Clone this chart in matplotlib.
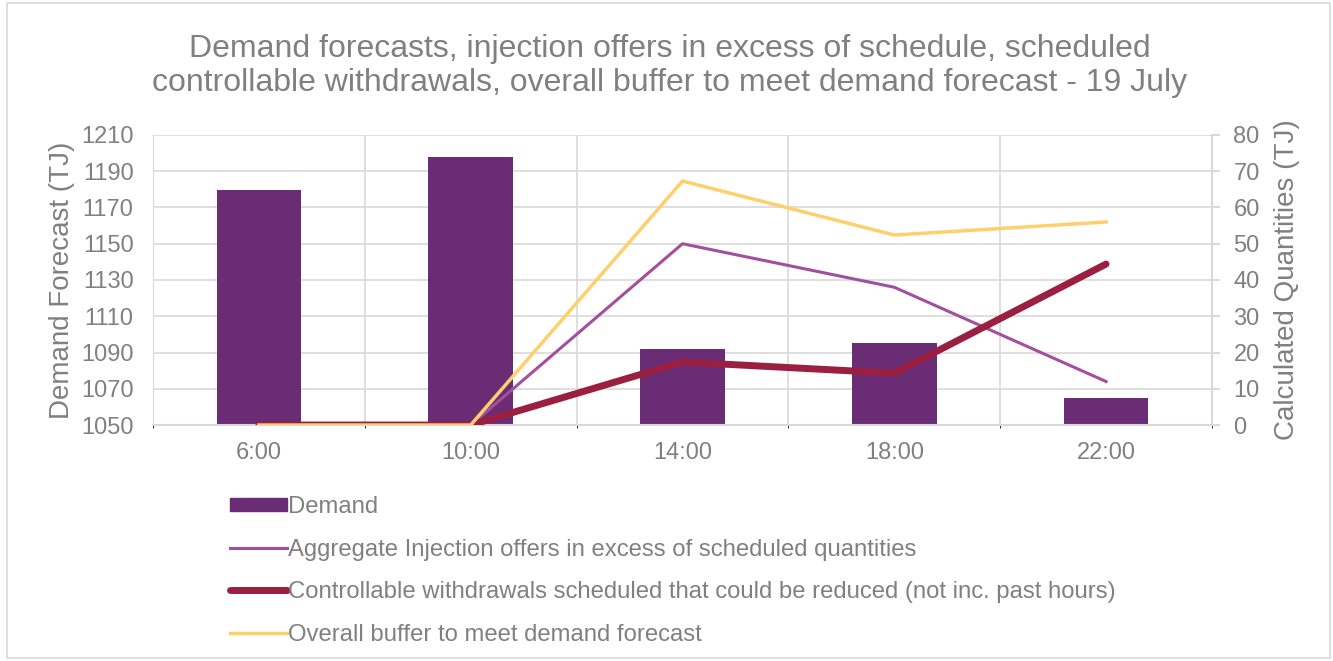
import numpy as np
import matplotlib.pyplot as plt
from matplotlib.patches import Rectangle
from matplotlib.lines import Line2D

plt.rcParams['font.family'] = ['Liberation Sans', 'DejaVu Sans']

hours = ["6:00", "10:00", "14:00", "18:00", "22:00"]
demand = [1179.5, 1198, 1092, 1095, 1065]
aggregate = [0, 0, 50, 38, 12]
controllable = [0, 0, 17.4, 14.3, 44.4]
buffer = [0, 0, 67.3, 52.4, 56]

grey = '#808080'
grid_c = '#d9d9d9'
c_bar = '#6a2c74'
c_agg = '#a34f9f'
c_ctl = '#9b1f40'
c_buf = '#fdd06b'

fig = plt.figure(figsize=(13.33, 6.61), dpi=100)
ax = fig.add_axes([0.1148, 0.357, 0.7944, 0.4388])
ax2 = ax.twinx()

x = np.arange(len(hours))
ax.bar(x, np.array(demand) - 1050, bottom=1050, width=0.4, color=c_bar, zorder=2)
ax.set_ylim(1050, 1210)
ax.set_yticks(np.arange(1050, 1211, 20))
ax.set_xlim(-0.5, len(hours) - 0.5)
ax.set_xticks(x)
ax.set_xticklabels(hours)
ax.set_xticks(np.arange(-0.5, len(hours), 1), minor=True)
ax.grid(True, which='minor', axis='x', color=grid_c, lw=1.2)
ax.grid(True, which='major', axis='y', color=grid_c, lw=1.2)
ax.set_axisbelow(True)

ax2.plot(x, aggregate, color=c_agg, lw=2.2, zorder=3)
ax2.plot(x, controllable, color=c_ctl, lw=5, solid_capstyle='round', zorder=4)
ax2.plot(x, buffer, color=c_buf, lw=2.5, zorder=5)
ax2.set_ylim(0, 80)
ax2.set_yticks(np.arange(0, 81, 10))

for a in (ax, ax2):
    for s in a.spines.values():
        s.set_visible(False)
    a.tick_params(colors=grey, labelsize=17, length=0)
ax.spines['bottom'].set_visible(True)
ax.spines['bottom'].set_color(grid_c)
ax.spines['bottom'].set_linewidth(1.5)
ax.spines['left'].set_visible(True)
ax.spines['left'].set_color(grid_c)
ax2.spines['right'].set_visible(True)
ax2.spines['right'].set_color(grid_c)
ax2.spines['right'].set_linewidth(1.5)
ax2.tick_params(axis='y', length=6, width=1.5, color=grid_c, pad=9.5)
ax.tick_params(axis='y', pad=14)
ax.tick_params(axis='x', pad=12)

ax.set_ylabel("Demand Forecast (TJ)", color=grey, fontsize=20, labelpad=4)
ax2.set_ylabel("Calculated Quantities (TJ)", color=grey, fontsize=20, labelpad=10)

fig.text(0.5025, 0.900,
         "Demand forecasts, injection offers in excess of schedule, scheduled\n"
         "controllable withdrawals, overall buffer to meet demand forecast - 19 July",
         ha='center', va='center', fontsize=23, color=grey, linespacing=1.15)

handles = [
    Rectangle((0, 0), 1, 1, color=c_bar),
    Line2D([0], [0], color=c_agg, lw=2.2),
    Line2D([0], [0], color=c_ctl, lw=5, solid_capstyle='round'),
    Line2D([0], [0], color=c_buf, lw=2.5),
]
labels = ["Demand",
          "Aggregate Injection offers in excess of scheduled quantities",
          "Controllable withdrawals scheduled that could be reduced (not inc. past hours)",
          "Overall buffer to meet demand forecast"]
leg = fig.legend(handles, labels, loc='upper left', bbox_to_anchor=(0.165, 0.264),
                 frameon=False, fontsize=17.2, handlelength=2.4, handleheight=0.5,
                 handletextpad=0.05, labelspacing=0.86, borderaxespad=0)
for t in leg.get_texts():
    t.set_color(grey)

fig.patches.append(Rectangle((7 / 1333, 3 / 661), 1323 / 1333, 655 / 661,
                             transform=fig.transFigure, fill=False,
                             edgecolor=grid_c, lw=1.2))

fig.savefig("out.png", dpi=100)
